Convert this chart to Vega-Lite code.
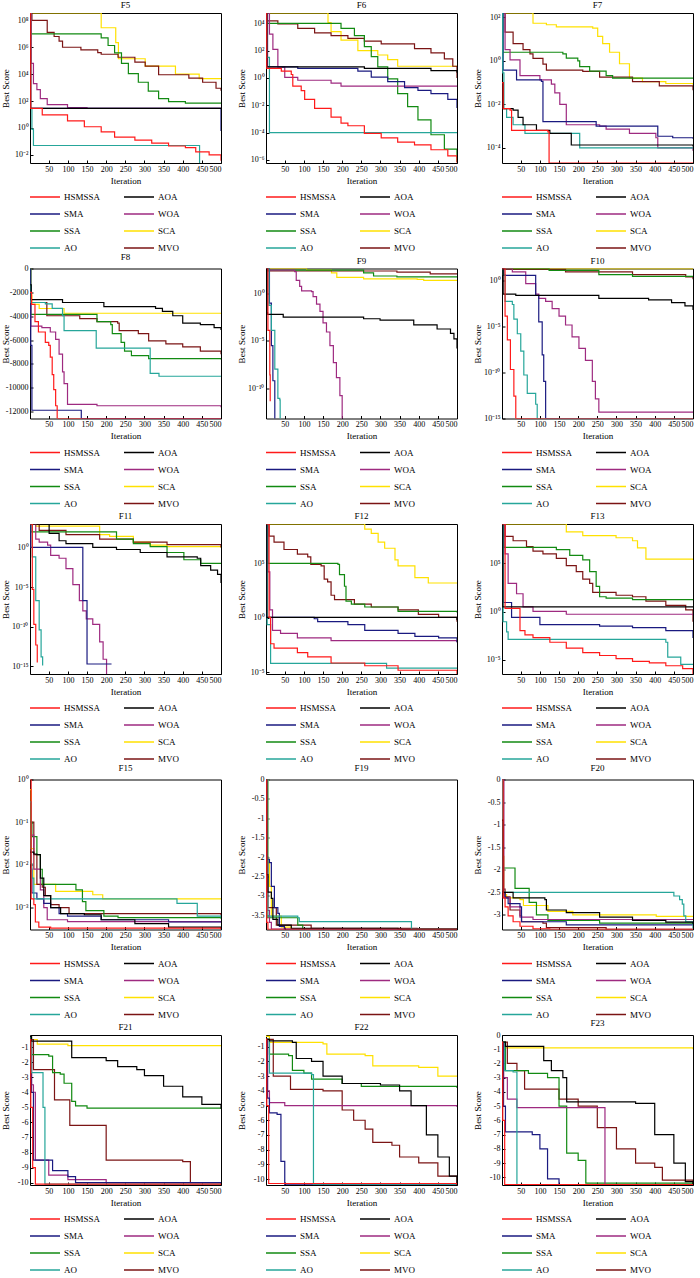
{
"$schema":"https://vega.github.io/schema/vega-lite/v6.json",
"padding":{"left":0,"top":0,"right":0,"bottom":0},
"background":"white",
"columns":3,
"spacing":{"row":105.5,"column":45},
"bounds":"flush",
"config":{
 "view":{"stroke":"#000","strokeWidth":1},
 "font":"Liberation Serif",
 "title":{"font":"Liberation Serif","fontSize":9,"fontWeight":"normal","offset":3,"color":"#000"},
 "axis":{"labelFont":"Liberation Serif","titleFont":"Liberation Serif","labelFontSize":8,"titleFontSize":9,"titleFontWeight":"normal","grid":false,"domain":false,"tickSize":-3,"labelPadding":5,"tickColor":"#000","labelColor":"#000","titleColor":"#000"},
 "axisX":{"titlePadding":3},
 "axisY":{"titleX":-20},
 "legend":{"symbolType":"stroke","symbolSize":900,"symbolStrokeWidth":1.5,"labelFont":"Liberation Serif","labelFontSize":9,"labelColor":"#000","columnPadding":22,"rowPadding":5,"clipHeight":12,"labelOffset":3,"padding":0}
},
"resolve":{"scale":{"x":"independent","y":"independent","color":"independent"},"legend":{"color":"independent"}},
"datasets":{
"F5":[
{"a":"SCA","x":1,"y":3.5e8},{"a":"SCA","x":187,"y":2.8e7},{"a":"SCA","x":225,"y":2.2e6},{"a":"SCA","x":232,"y":1.4e5},{"a":"SCA","x":302,"y":4e4},{"a":"SCA","x":381,"y":1e4},{"a":"SCA","x":443,"y":4700},{"a":"SCA","x":500,"y":4700},
{"a":"MVO","x":1,"y":3.5e8},{"a":"MVO","x":6,"y":1e8},{"a":"MVO","x":46,"y":1.26e7},{"a":"MVO","x":64,"y":6.3e6},{"a":"MVO","x":77,"y":2.8e6},{"a":"MVO","x":86,"y":1e6},{"a":"MVO","x":134,"y":6.3e5},{"a":"MVO","x":178,"y":4e5},{"a":"MVO","x":187,"y":3e5},{"a":"MVO","x":231,"y":1.8e5},{"a":"MVO","x":275,"y":7.9e4},{"a":"MVO","x":302,"y":4e4},{"a":"MVO","x":337,"y":9000},{"a":"MVO","x":416,"y":5000},{"a":"MVO","x":452,"y":2500},{"a":"MVO","x":487,"y":900},{"a":"MVO","x":500,"y":590},
{"a":"SSA","x":1,"y":3.5e8},{"a":"SSA","x":3,"y":1e7},{"a":"SSA","x":178,"y":1e7},{"a":"SSA","x":187,"y":5e6},{"a":"SSA","x":205,"y":1.35e6},{"a":"SSA","x":222,"y":3.8e5},{"a":"SSA","x":240,"y":6.3e4},{"a":"SSA","x":258,"y":1.1e4},{"a":"SSA","x":284,"y":2500},{"a":"SSA","x":310,"y":540},{"a":"SSA","x":337,"y":150},{"a":"SSA","x":363,"y":90},{"a":"SSA","x":407,"y":70},{"a":"SSA","x":500,"y":70},
{"a":"WOA","x":1,"y":3.5e8},{"a":"WOA","x":4,"y":6.3e4},{"a":"WOA","x":10,"y":2000},{"a":"WOA","x":19,"y":700},{"a":"WOA","x":28,"y":150},{"a":"WOA","x":46,"y":55},{"a":"WOA","x":99,"y":33},{"a":"WOA","x":150,"y":29},{"a":"WOA","x":500,"y":29},
{"a":"SMA","x":1,"y":3.5e8},{"a":"SMA","x":3,"y":29},{"a":"SMA","x":498,"y":29},{"a":"SMA","x":500,"y":0.6},
{"a":"AO","x":1,"y":3.5e8},{"a":"AO","x":3,"y":29},{"a":"AO","x":6,"y":0.8},{"a":"AO","x":10,"y":0.05},{"a":"AO","x":443,"y":0.05},{"a":"AO","x":444,"y":1e-5},{"a":"AO","x":500,"y":1e-5},
{"a":"AOA","x":1,"y":3.5e8},{"a":"AOA","x":2,"y":29},{"a":"AOA","x":500,"y":29},
{"a":"HSMSSA","x":1,"y":3.5e8},{"a":"HSMSSA","x":3,"y":29},{"a":"HSMSSA","x":33,"y":9.3},{"a":"HSMSSA","x":99,"y":3.4},{"a":"HSMSSA","x":143,"y":1.23},{"a":"HSMSSA","x":187,"y":0.51},{"a":"HSMSSA","x":222,"y":0.21},{"a":"HSMSSA","x":275,"y":0.126},{"a":"HSMSSA","x":319,"y":0.076},{"a":"HSMSSA","x":363,"y":0.046},{"a":"HSMSSA","x":407,"y":0.035},{"a":"HSMSSA","x":434,"y":0.0166},{"a":"HSMSSA","x":469,"y":0.01},{"a":"HSMSSA","x":500,"y":0.0036}
],
"F6":[
{"a":"SCA","x":1,"y":5.7e4},{"a":"SCA","x":145,"y":5.7e4},{"a":"SCA","x":163,"y":1.15e4},{"a":"SCA","x":171,"y":2500},{"a":"SCA","x":197,"y":590},{"a":"SCA","x":241,"y":100},{"a":"SCA","x":293,"y":48},{"a":"SCA","x":319,"y":22},{"a":"SCA","x":345,"y":7.2},{"a":"SCA","x":500,"y":6.3},
{"a":"MVO","x":1,"y":5.7e4},{"a":"MVO","x":3,"y":1.5e4},{"a":"MVO","x":32,"y":8900},{"a":"MVO","x":84,"y":4300},{"a":"MVO","x":128,"y":2000},{"a":"MVO","x":171,"y":1260},{"a":"MVO","x":215,"y":790},{"a":"MVO","x":258,"y":500},{"a":"MVO","x":302,"y":316},{"a":"MVO","x":389,"y":140},{"a":"MVO","x":432,"y":68},{"a":"MVO","x":467,"y":25},{"a":"MVO","x":489,"y":7.2},{"a":"MVO","x":500,"y":1},
{"a":"SSA","x":1,"y":5.7e4},{"a":"SSA","x":3,"y":1e4},{"a":"SSA","x":180,"y":1e4},{"a":"SSA","x":197,"y":4300},{"a":"SSA","x":232,"y":1260},{"a":"SSA","x":258,"y":200},{"a":"SSA","x":276,"y":37},{"a":"SSA","x":293,"y":6.6},{"a":"SSA","x":319,"y":0.87},{"a":"SSA","x":345,"y":0.072},{"a":"SSA","x":371,"y":0.0079},{"a":"SSA","x":398,"y":8.5e-4},{"a":"SSA","x":432,"y":7e-5},{"a":"SSA","x":467,"y":6.3e-6},{"a":"SSA","x":500,"y":7e-7},
{"a":"WOA","x":1,"y":5.7e4},{"a":"WOA","x":10,"y":1600},{"a":"WOA","x":19,"y":126},{"a":"WOA","x":32,"y":6.3},{"a":"WOA","x":50,"y":1.12},{"a":"WOA","x":84,"y":0.68},{"a":"WOA","x":171,"y":0.42},{"a":"WOA","x":197,"y":0.25},{"a":"WOA","x":500,"y":0.25},
{"a":"SMA","x":1,"y":5.7e4},{"a":"SMA","x":5,"y":6.6},{"a":"SMA","x":84,"y":5},{"a":"SMA","x":232,"y":5},{"a":"SMA","x":241,"y":3.2},{"a":"SMA","x":276,"y":1.15},{"a":"SMA","x":319,"y":0.54},{"a":"SMA","x":363,"y":0.2},{"a":"SMA","x":398,"y":0.126},{"a":"SMA","x":432,"y":0.072},{"a":"SMA","x":476,"y":0.027},{"a":"SMA","x":500,"y":0.0063},
{"a":"AO","x":1,"y":5.7e4},{"a":"AO","x":3,"y":32},{"a":"AO","x":10,"y":1e-4},{"a":"AO","x":500,"y":1e-4},
{"a":"AOA","x":1,"y":5.7e4},{"a":"AOA","x":3,"y":6.6},{"a":"AOA","x":258,"y":5},{"a":"AOA","x":432,"y":3.5},{"a":"AOA","x":500,"y":2.4},
{"a":"HSMSSA","x":1,"y":5.7e4},{"a":"HSMSSA","x":3,"y":5},{"a":"HSMSSA","x":41,"y":3.2},{"a":"HSMSSA","x":67,"y":1.8},{"a":"HSMSSA","x":71,"y":0.25},{"a":"HSMSSA","x":93,"y":0.12},{"a":"HSMSSA","x":102,"y":0.027},{"a":"HSMSSA","x":128,"y":0.006},{"a":"HSMSSA","x":171,"y":0.00135},{"a":"HSMSSA","x":197,"y":5e-4},{"a":"HSMSSA","x":215,"y":3.2e-4},{"a":"HSMSSA","x":258,"y":8.7e-5},{"a":"HSMSSA","x":302,"y":4.2e-5},{"a":"HSMSSA","x":345,"y":2e-5},{"a":"HSMSSA","x":389,"y":1.26e-5},{"a":"HSMSSA","x":432,"y":5.6e-6},{"a":"HSMSSA","x":476,"y":2e-6},{"a":"HSMSSA","x":500,"y":6.3e-7}
],
"F7":[
{"a":"SCA","x":1,"y":160},{"a":"SCA","x":82,"y":54},{"a":"SCA","x":117,"y":46},{"a":"SCA","x":143,"y":37},{"a":"SCA","x":238,"y":32},{"a":"SCA","x":251,"y":13.5},{"a":"SCA","x":264,"y":6.2},{"a":"SCA","x":282,"y":2.5},{"a":"SCA","x":308,"y":0.74},{"a":"SCA","x":334,"y":0.16},{"a":"SCA","x":368,"y":0.11},{"a":"SCA","x":429,"y":0.091},{"a":"SCA","x":500,"y":0.08},
{"a":"MVO","x":1,"y":160},{"a":"MVO","x":9,"y":21},{"a":"MVO","x":30,"y":6.2},{"a":"MVO","x":56,"y":3.3},{"a":"MVO","x":74,"y":2.1},{"a":"MVO","x":82,"y":1.3},{"a":"MVO","x":108,"y":0.71},{"a":"MVO","x":117,"y":0.38},{"a":"MVO","x":212,"y":0.33},{"a":"MVO","x":256,"y":0.18},{"a":"MVO","x":342,"y":0.11},{"a":"MVO","x":412,"y":0.071},{"a":"MVO","x":500,"y":0.045},
{"a":"SSA","x":1,"y":160},{"a":"SSA","x":3,"y":2.5},{"a":"SSA","x":134,"y":2.5},{"a":"SSA","x":160,"y":2.1},{"a":"SSA","x":169,"y":1.35},{"a":"SSA","x":199,"y":1.0},{"a":"SSA","x":204,"y":0.54},{"a":"SSA","x":230,"y":0.34},{"a":"SSA","x":273,"y":0.21},{"a":"SSA","x":290,"y":0.16},{"a":"SSA","x":500,"y":0.15},
{"a":"WOA","x":1,"y":160},{"a":"WOA","x":9,"y":3.3},{"a":"WOA","x":22,"y":1.12},{"a":"WOA","x":48,"y":0.21},{"a":"WOA","x":100,"y":0.135},{"a":"WOA","x":130,"y":0.085},{"a":"WOA","x":139,"y":0.034},{"a":"WOA","x":152,"y":0.01},{"a":"WOA","x":169,"y":0.00115},{"a":"WOA","x":256,"y":0.001},{"a":"WOA","x":273,"y":7.2e-4},{"a":"WOA","x":334,"y":4.6e-4},{"a":"WOA","x":403,"y":2.9e-4},{"a":"WOA","x":408,"y":1e-4},{"a":"WOA","x":500,"y":7.4e-5},
{"a":"SMA","x":1,"y":160},{"a":"SMA","x":4,"y":0.38},{"a":"SMA","x":39,"y":0.135},{"a":"SMA","x":104,"y":0.115},{"a":"SMA","x":108,"y":0.0016},{"a":"SMA","x":247,"y":0.001},{"a":"SMA","x":408,"y":3.4e-4},{"a":"SMA","x":447,"y":2.9e-4},{"a":"SMA","x":500,"y":2.6e-4},
{"a":"AO","x":1,"y":160},{"a":"AO","x":3,"y":0.28},{"a":"AO","x":6,"y":0.0063},{"a":"AO","x":13,"y":0.0025},{"a":"AO","x":30,"y":0.00115},{"a":"AO","x":61,"y":4.6e-4},{"a":"AO","x":199,"y":4.6e-4},{"a":"AO","x":204,"y":1e-4},{"a":"AO","x":500,"y":1e-4},
{"a":"AOA","x":1,"y":0.1},{"a":"AOA","x":4,"y":0.0063},{"a":"AOA","x":30,"y":0.0054},{"a":"AOA","x":43,"y":0.0025},{"a":"AOA","x":56,"y":0.00115},{"a":"AOA","x":91,"y":6.3e-4},{"a":"AOA","x":126,"y":4.6e-4},{"a":"AOA","x":182,"y":1.35e-4},{"a":"AOA","x":500,"y":1.15e-4},
{"a":"HSMSSA","x":1,"y":0.1},{"a":"HSMSSA","x":4,"y":0.0063},{"a":"HSMSSA","x":22,"y":0.0054},{"a":"HSMSSA","x":26,"y":6.3e-4},{"a":"HSMSSA","x":121,"y":5.4e-4},{"a":"HSMSSA","x":124,"y":2e-5},{"a":"HSMSSA","x":500,"y":2e-5}
],
"F8":[
{"a":"SCA","x":1,"y":0},{"a":"SCA","x":3,"y":-2200},{"a":"SCA","x":6,"y":-3000},{"a":"SCA","x":25,"y":-3350},{"a":"SCA","x":90,"y":-3750},{"a":"SCA","x":500,"y":-3750},
{"a":"MVO","x":1,"y":-1360},{"a":"MVO","x":4,"y":-2850},{"a":"MVO","x":45,"y":-3960},{"a":"MVO","x":131,"y":-4200},{"a":"MVO","x":176,"y":-4450},{"a":"MVO","x":230,"y":-4580},{"a":"MVO","x":234,"y":-5200},{"a":"MVO","x":284,"y":-5450},{"a":"MVO","x":311,"y":-6060},{"a":"MVO","x":356,"y":-6310},{"a":"MVO","x":400,"y":-6560},{"a":"MVO","x":446,"y":-6930},{"a":"MVO","x":500,"y":-7180},
{"a":"SSA","x":1,"y":0},{"a":"SSA","x":3,"y":-3840},{"a":"SSA","x":176,"y":-4450},{"a":"SSA","x":212,"y":-4700},{"a":"SSA","x":216,"y":-5450},{"a":"SSA","x":239,"y":-6190},{"a":"SSA","x":248,"y":-6930},{"a":"SSA","x":266,"y":-7300},{"a":"SSA","x":311,"y":-7550},{"a":"SSA","x":500,"y":-7620},
{"a":"WOA","x":1,"y":-1360},{"a":"WOA","x":3,"y":-4830},{"a":"WOA","x":32,"y":-4950},{"a":"WOA","x":54,"y":-5320},{"a":"WOA","x":68,"y":-5940},{"a":"WOA","x":77,"y":-7180},{"a":"WOA","x":86,"y":-8660},{"a":"WOA","x":90,"y":-9650},{"a":"WOA","x":99,"y":-11390},{"a":"WOA","x":176,"y":-11500},{"a":"WOA","x":500,"y":-11630},
{"a":"SMA","x":1,"y":0},{"a":"SMA","x":3,"y":-6440},{"a":"SMA","x":6,"y":-11880},{"a":"SMA","x":131,"y":-11880},{"a":"SMA","x":135,"y":-12570},{"a":"SMA","x":500,"y":-12570},
{"a":"AO","x":1,"y":-1360},{"a":"AO","x":3,"y":-2850},{"a":"AO","x":41,"y":-2970},{"a":"AO","x":59,"y":-3340},{"a":"AO","x":86,"y":-3960},{"a":"AO","x":90,"y":-5200},{"a":"AO","x":174,"y":-6680},{"a":"AO","x":315,"y":-8790},{"a":"AO","x":338,"y":-9030},{"a":"AO","x":500,"y":-9030},
{"a":"AOA","x":1,"y":-1360},{"a":"AOA","x":4,"y":-2600},{"a":"AOA","x":86,"y":-2850},{"a":"AOA","x":194,"y":-3200},{"a":"AOA","x":329,"y":-3340},{"a":"AOA","x":347,"y":-3590},{"a":"AOA","x":374,"y":-3960},{"a":"AOA","x":400,"y":-4580},{"a":"AOA","x":446,"y":-4700},{"a":"AOA","x":482,"y":-4950},{"a":"AOA","x":500,"y":-5150},
{"a":"HSMSSA","x":1,"y":-2000},{"a":"HSMSSA","x":5,"y":-3000},{"a":"HSMSSA","x":14,"y":-4450},{"a":"HSMSSA","x":23,"y":-5320},{"a":"HSMSSA","x":41,"y":-6190},{"a":"HSMSSA","x":50,"y":-6440},{"a":"HSMSSA","x":54,"y":-7430},{"a":"HSMSSA","x":59,"y":-8900},{"a":"HSMSSA","x":63,"y":-10150},{"a":"HSMSSA","x":68,"y":-11500},{"a":"HSMSSA","x":72,"y":-12570},{"a":"HSMSSA","x":500,"y":-12570}
],
"F9":[
{"a":"SCA","x":1,"y":460},{"a":"SCA","x":98,"y":460},{"a":"SCA","x":107,"y":316},{"a":"SCA","x":172,"y":160},{"a":"SCA","x":186,"y":52},{"a":"SCA","x":256,"y":36},{"a":"SCA","x":396,"y":32},{"a":"SCA","x":413,"y":25},{"a":"SCA","x":500,"y":25},
{"a":"MVO","x":1,"y":460},{"a":"MVO","x":6,"y":250},{"a":"MVO","x":343,"y":190},{"a":"MVO","x":430,"y":126},{"a":"MVO","x":500,"y":107},
{"a":"SSA","x":1,"y":460},{"a":"SSA","x":6,"y":316},{"a":"SSA","x":256,"y":160},{"a":"SSA","x":282,"y":74},{"a":"SSA","x":343,"y":60},{"a":"SSA","x":500,"y":52},
{"a":"WOA","x":1,"y":460},{"a":"WOA","x":6,"y":316},{"a":"WOA","x":76,"y":220},{"a":"WOA","x":80,"y":25},{"a":"WOA","x":89,"y":6},{"a":"WOA","x":94,"y":2},{"a":"WOA","x":120,"y":1.66},{"a":"WOA","x":124,"y":0.49},{"a":"WOA","x":133,"y":0.079},{"a":"WOA","x":142,"y":0.0135},{"a":"WOA","x":150,"y":8e-4},{"a":"WOA","x":159,"y":8.7e-5},{"a":"WOA","x":168,"y":3.2e-6},{"a":"WOA","x":177,"y":5e-8},{"a":"WOA","x":185,"y":1.26e-9},{"a":"WOA","x":194,"y":1.6e-11},{"a":"WOA","x":200,"y":1e-15},
{"a":"SMA","x":1,"y":460},{"a":"SMA","x":10,"y":0.1},{"a":"SMA","x":15,"y":3.2e-6},{"a":"SMA","x":19,"y":6e-10},{"a":"SMA","x":24,"y":1e-15},
{"a":"AO","x":1,"y":460},{"a":"AO","x":9,"y":0.056},{"a":"AO","x":15,"y":1.26e-4},{"a":"AO","x":24,"y":1e-8},{"a":"AO","x":32,"y":8e-12},{"a":"AO","x":37,"y":5.6e-12},{"a":"AO","x":38,"y":1e-15},
{"a":"AOA","x":1,"y":460},{"a":"AOA","x":4,"y":0.01},{"a":"AOA","x":5,"y":0.0063},{"a":"AOA","x":46,"y":0.0032},{"a":"AOA","x":212,"y":0.0032},{"a":"AOA","x":256,"y":0.0022},{"a":"AOA","x":299,"y":0.0016},{"a":"AOA","x":387,"y":5e-4},{"a":"AOA","x":448,"y":1.8e-4},{"a":"AOA","x":483,"y":6.3e-5},{"a":"AOA","x":492,"y":1.6e-5},{"a":"AOA","x":500,"y":1.6e-6},
{"a":"HSMSSA","x":1,"y":460},{"a":"HSMSSA","x":6,"y":1.26e-4},{"a":"HSMSSA","x":11,"y":2.5e-9},{"a":"HSMSSA","x":12,"y":4e-12}
],
"F10":[
{"a":"SCA","x":1,"y":20.8},{"a":"SCA","x":500,"y":20.8},
{"a":"MVO","x":1,"y":20.8},{"a":"MVO","x":6,"y":17},{"a":"MVO","x":167,"y":9.3},{"a":"MVO","x":342,"y":4.5},{"a":"MVO","x":481,"y":2.6},{"a":"MVO","x":500,"y":1.45},
{"a":"SSA","x":1,"y":20.8},{"a":"SSA","x":124,"y":13.5},{"a":"SSA","x":254,"y":4.5},{"a":"SSA","x":342,"y":3},{"a":"SSA","x":500,"y":2.6},
{"a":"WOA","x":1,"y":20.8},{"a":"WOA","x":28,"y":9.3},{"a":"WOA","x":63,"y":0.48},{"a":"WOA","x":89,"y":0.035},{"a":"WOA","x":97,"y":0.0115},{"a":"WOA","x":115,"y":0.0055},{"a":"WOA","x":132,"y":8.7e-4},{"a":"WOA","x":150,"y":1.35e-4},{"a":"WOA","x":167,"y":1.45e-5},{"a":"WOA","x":184,"y":7.4e-7},{"a":"WOA","x":202,"y":4e-8},{"a":"WOA","x":219,"y":2e-9},{"a":"WOA","x":237,"y":1e-11},{"a":"WOA","x":245,"y":1.26e-13},{"a":"WOA","x":254,"y":4.4e-15},{"a":"WOA","x":500,"y":4.4e-15},
{"a":"SMA","x":1,"y":20.8},{"a":"SMA","x":6,"y":3.8},{"a":"SMA","x":80,"y":3.8},{"a":"SMA","x":89,"y":0.025},{"a":"SMA","x":97,"y":3.2e-5},{"a":"SMA","x":106,"y":8e-9},{"a":"SMA","x":110,"y":1e-11},{"a":"SMA","x":115,"y":8.88e-16},{"a":"SMA","x":500,"y":8.88e-16},
{"a":"AO","x":1,"y":20.8},{"a":"AO","x":4,"y":4.5},{"a":"AO","x":9,"y":0.0055},{"a":"AO","x":28,"y":0.0025},{"a":"AO","x":32,"y":6.3e-5},{"a":"AO","x":41,"y":1.6e-6},{"a":"AO","x":50,"y":2e-8},{"a":"AO","x":58,"y":5e-11},{"a":"AO","x":67,"y":5e-13},{"a":"AO","x":89,"y":3.2e-14},{"a":"AO","x":93,"y":8.88e-16},{"a":"AO","x":500,"y":8.88e-16},
{"a":"AOA","x":1,"y":20.8},{"a":"AOA","x":4,"y":0.035},{"a":"AOA","x":37,"y":0.025},{"a":"AOA","x":254,"y":0.0115},{"a":"AOA","x":384,"y":0.008},{"a":"AOA","x":444,"y":0.004},{"a":"AOA","x":479,"y":0.0018},{"a":"AOA","x":500,"y":6.3e-4},
{"a":"HSMSSA","x":1,"y":20.8},{"a":"HSMSSA","x":9,"y":1.35e-4},{"a":"HSMSSA","x":15,"y":3.5e-7},{"a":"HSMSSA","x":23,"y":2e-10},{"a":"HSMSSA","x":32,"y":2.5e-13},{"a":"HSMSSA","x":37,"y":8.88e-16},{"a":"HSMSSA","x":500,"y":8.88e-16}
],
"F11":[
{"a":"SCA","x":1,"y":900},{"a":"SCA","x":16,"y":500},{"a":"SCA","x":179,"y":500},{"a":"SCA","x":183,"y":40},{"a":"SCA","x":209,"y":25},{"a":"SCA","x":271,"y":4.7},{"a":"SCA","x":315,"y":2},{"a":"SCA","x":359,"y":1.3},{"a":"SCA","x":500,"y":1},
{"a":"MVO","x":1,"y":900},{"a":"MVO","x":25,"y":140},{"a":"MVO","x":95,"y":40},{"a":"MVO","x":183,"y":11},{"a":"MVO","x":271,"y":4.7},{"a":"MVO","x":359,"y":2.3},{"a":"MVO","x":500,"y":1},
{"a":"SSA","x":1,"y":900},{"a":"SSA","x":3,"y":91},{"a":"SSA","x":192,"y":91},{"a":"SSA","x":227,"y":11},{"a":"SSA","x":271,"y":3},{"a":"SSA","x":315,"y":1.3},{"a":"SSA","x":359,"y":0.23},{"a":"SSA","x":403,"y":0.028},{"a":"SSA","x":447,"y":0.01},{"a":"SSA","x":500,"y":0.008},
{"a":"WOA","x":1,"y":900},{"a":"WOA","x":16,"y":11},{"a":"WOA","x":25,"y":4.7},{"a":"WOA","x":47,"y":2},{"a":"WOA","x":55,"y":0.1},{"a":"WOA","x":77,"y":0.043},{"a":"WOA","x":95,"y":0.0021},{"a":"WOA","x":113,"y":2e-5},{"a":"WOA","x":130,"y":2e-7},{"a":"WOA","x":139,"y":1e-8},{"a":"WOA","x":148,"y":1e-9},{"a":"WOA","x":165,"y":2e-10},{"a":"WOA","x":183,"y":1.26e-12},{"a":"WOA","x":192,"y":8e-15},{"a":"WOA","x":201,"y":1e-17},
{"a":"SMA","x":1,"y":900},{"a":"SMA","x":3,"y":1},{"a":"SMA","x":133,"y":1},{"a":"SMA","x":139,"y":2e-7},{"a":"SMA","x":150,"y":2e-15},{"a":"SMA","x":214,"y":2e-15},
{"a":"AO","x":1,"y":900},{"a":"AO","x":7,"y":0.063},{"a":"AO","x":16,"y":2e-7},{"a":"AO","x":25,"y":4e-11},{"a":"AO","x":30,"y":1.6e-14},{"a":"AO","x":34,"y":1.26e-15},
{"a":"AOA","x":1,"y":900},{"a":"AOA","x":51,"y":60},{"a":"AOA","x":77,"y":7},{"a":"AOA","x":95,"y":3},{"a":"AOA","x":165,"y":1},{"a":"AOA","x":227,"y":0.55},{"a":"AOA","x":289,"y":0.23},{"a":"AOA","x":359,"y":0.066},{"a":"AOA","x":438,"y":0.043},{"a":"AOA","x":447,"y":0.005},{"a":"AOA","x":473,"y":0.0014},{"a":"AOA","x":491,"y":4e-4},{"a":"AOA","x":500,"y":3.2e-5},
{"a":"HSMSSA","x":1,"y":900},{"a":"HSMSSA","x":7,"y":5e-6},{"a":"HSMSSA","x":11,"y":2e-10},{"a":"HSMSSA","x":16,"y":5e-13},{"a":"HSMSSA","x":20,"y":3.2e-15}
],
"F12":[
{"a":"SCA","x":1,"y":4.2e8},{"a":"SCA","x":237,"y":4.2e8},{"a":"SCA","x":259,"y":1.45e8},{"a":"SCA","x":276,"y":5.8e7},{"a":"SCA","x":294,"y":9e6},{"a":"SCA","x":311,"y":2.5e6},{"a":"SCA","x":338,"y":2.1e5},{"a":"SCA","x":346,"y":6e4},{"a":"SCA","x":390,"y":5000},{"a":"SCA","x":425,"y":1600},{"a":"SCA","x":500,"y":1600},
{"a":"MVO","x":1,"y":4.2e8},{"a":"MVO","x":9,"y":3.2e7},{"a":"MVO","x":22,"y":9e6},{"a":"MVO","x":48,"y":1.9e6},{"a":"MVO","x":83,"y":7.2e5},{"a":"MVO","x":110,"y":4e5},{"a":"MVO","x":118,"y":8.3e4},{"a":"MVO","x":145,"y":6e4},{"a":"MVO","x":153,"y":3700},{"a":"MVO","x":162,"y":2000},{"a":"MVO","x":171,"y":120},{"a":"MVO","x":180,"y":48},{"a":"MVO","x":232,"y":18.6},{"a":"MVO","x":276,"y":10},{"a":"MVO","x":346,"y":5.4},{"a":"MVO","x":399,"y":2.1},{"a":"MVO","x":452,"y":1.12},{"a":"MVO","x":500,"y":0.45},
{"a":"SSA","x":1,"y":4.2e8},{"a":"SSA","x":6,"y":1e5},{"a":"SSA","x":189,"y":8.3e4},{"a":"SSA","x":193,"y":9300},{"a":"SSA","x":206,"y":800},{"a":"SSA","x":210,"y":35},{"a":"SSA","x":224,"y":18.6},{"a":"SSA","x":259,"y":10},{"a":"SSA","x":346,"y":4},{"a":"SSA","x":500,"y":3.2},
{"a":"WOA","x":1,"y":4.2e8},{"a":"WOA","x":6,"y":1.7e4},{"a":"WOA","x":11,"y":5.4},{"a":"WOA","x":18,"y":0.07},{"a":"WOA","x":39,"y":0.037},{"a":"WOA","x":83,"y":0.0145},{"a":"WOA","x":171,"y":0.008},{"a":"WOA","x":500,"y":0.0058},
{"a":"SMA","x":1,"y":4.2e8},{"a":"SMA","x":3,"y":1.12},{"a":"SMA","x":127,"y":0.83},{"a":"SMA","x":136,"y":0.45},{"a":"SMA","x":215,"y":0.24},{"a":"SMA","x":259,"y":0.07},{"a":"SMA","x":346,"y":0.037},{"a":"SMA","x":390,"y":0.02},{"a":"SMA","x":452,"y":0.0145},{"a":"SMA","x":500,"y":0.0058},
{"a":"AO","x":1,"y":4.2e8},{"a":"AO","x":4,"y":0.24},{"a":"AO","x":13,"y":6.5e-5},{"a":"AO","x":311,"y":6.5e-5},{"a":"AO","x":316,"y":2.4e-5},{"a":"AO","x":500,"y":2.4e-5},
{"a":"AOA","x":1,"y":4.2e8},{"a":"AOA","x":3,"y":1.12},{"a":"AOA","x":500,"y":0.63},
{"a":"HSMSSA","x":1,"y":4.2e8},{"a":"HSMSSA","x":9,"y":1.12},{"a":"HSMSSA","x":13,"y":0.0042},{"a":"HSMSSA","x":22,"y":0.00166},{"a":"HSMSSA","x":83,"y":6.5e-4},{"a":"HSMSSA","x":110,"y":2.6e-4},{"a":"HSMSSA","x":171,"y":7.2e-5},{"a":"HSMSSA","x":259,"y":4e-5},{"a":"HSMSSA","x":346,"y":1.55e-5},{"a":"HSMSSA","x":500,"y":7e-6}
],
"F13":[
{"a":"SCA","x":1,"y":1.2e9},{"a":"SCA","x":160,"y":1.2e9},{"a":"SCA","x":169,"y":1.8e8},{"a":"SCA","x":212,"y":7.4e7},{"a":"SCA","x":299,"y":4.5e7},{"a":"SCA","x":342,"y":2.2e7},{"a":"SCA","x":355,"y":4e6},{"a":"SCA","x":377,"y":2.7e5},{"a":"SCA","x":500,"y":2.3e5},
{"a":"MVO","x":1,"y":1.2e9},{"a":"MVO","x":9,"y":6.3e7},{"a":"MVO","x":30,"y":2.2e7},{"a":"MVO","x":65,"y":5.5e6},{"a":"MVO","x":82,"y":1.9e6},{"a":"MVO","x":108,"y":9.5e5},{"a":"MVO","x":143,"y":3.3e5},{"a":"MVO","x":169,"y":5.8e4},{"a":"MVO","x":195,"y":1.4e4},{"a":"MVO","x":212,"y":2400},{"a":"MVO","x":230,"y":850},{"a":"MVO","x":238,"y":100},{"a":"MVO","x":299,"y":50},{"a":"MVO","x":342,"y":35},{"a":"MVO","x":377,"y":12.6},{"a":"MVO","x":429,"y":4.4},{"a":"MVO","x":481,"y":1.5},{"a":"MVO","x":500,"y":0.09},
{"a":"SSA","x":1,"y":1.2e9},{"a":"SSA","x":6,"y":4.5e6},{"a":"SSA","x":143,"y":2.7e6},{"a":"SSA","x":178,"y":6.6e5},{"a":"SSA","x":212,"y":2.3e5},{"a":"SSA","x":230,"y":1.4e4},{"a":"SSA","x":247,"y":420},{"a":"SSA","x":256,"y":35},{"a":"SSA","x":273,"y":25},{"a":"SSA","x":342,"y":18},{"a":"SSA","x":500,"y":16},
{"a":"WOA","x":1,"y":1.2e9},{"a":"WOA","x":9,"y":9.5e5},{"a":"WOA","x":17,"y":850},{"a":"WOA","x":39,"y":72},{"a":"WOA","x":56,"y":3.1},{"a":"WOA","x":82,"y":1.07},{"a":"WOA","x":169,"y":0.54},{"a":"WOA","x":500,"y":0.43},
{"a":"SMA","x":1,"y":1.2e9},{"a":"SMA","x":4,"y":8.9},{"a":"SMA","x":22,"y":8.9},{"a":"SMA","x":26,"y":0.26},{"a":"SMA","x":95,"y":0.26},{"a":"SMA","x":100,"y":0.046},{"a":"SMA","x":212,"y":0.046},{"a":"SMA","x":256,"y":0.032},{"a":"SMA","x":342,"y":0.022},{"a":"SMA","x":429,"y":0.011},{"a":"SMA","x":500,"y":0.0019},
{"a":"AO","x":1,"y":1.2e9},{"a":"AO","x":4,"y":0.09},{"a":"AO","x":13,"y":0.0079},{"a":"AO","x":17,"y":0.00135},{"a":"AO","x":342,"y":0.00135},{"a":"AO","x":429,"y":6.8e-4},{"a":"AO","x":434,"y":2e-5},{"a":"AO","x":464,"y":2e-5},{"a":"AO","x":468,"y":3.5e-6},{"a":"AO","x":500,"y":3.5e-6},
{"a":"AOA","x":1,"y":1.2e9},{"a":"AOA","x":3,"y":3.1},{"a":"AOA","x":500,"y":3.1},
{"a":"HSMSSA","x":1,"y":1.2e9},{"a":"HSMSSA","x":9,"y":2.2},{"a":"HSMSSA","x":43,"y":2.2},{"a":"HSMSSA","x":48,"y":0.011},{"a":"HSMSSA","x":61,"y":0.004},{"a":"HSMSSA","x":82,"y":0.002},{"a":"HSMSSA","x":126,"y":6.8e-4},{"a":"HSMSSA","x":169,"y":1.66e-4},{"a":"HSMSSA","x":212,"y":5.8e-5},{"a":"HSMSSA","x":256,"y":2.9e-5},{"a":"HSMSSA","x":299,"y":1.4e-5},{"a":"HSMSSA","x":342,"y":7e-6},{"a":"HSMSSA","x":386,"y":5e-6},{"a":"HSMSSA","x":429,"y":2.5e-6},{"a":"HSMSSA","x":473,"y":1.26e-6},{"a":"HSMSSA","x":500,"y":3.5e-7}
],
"F15":[
{"a":"SCA","x":1,"y":0.58},{"a":"SCA","x":4,"y":0.024},{"a":"SCA","x":11,"y":0.0035},{"a":"SCA","x":68,"y":0.0024},{"a":"SCA","x":165,"y":0.002},{"a":"SCA","x":191,"y":0.0016},{"a":"SCA","x":500,"y":0.0016},
{"a":"MVO","x":1,"y":0.1},{"a":"MVO","x":11,"y":0.0174},{"a":"MVO","x":19,"y":0.0035},{"a":"MVO","x":33,"y":0.003},{"a":"MVO","x":41,"y":0.0019},{"a":"MVO","x":55,"y":0.00117},{"a":"MVO","x":77,"y":0.001},{"a":"MVO","x":103,"y":7.2e-4},{"a":"MVO","x":500,"y":6.5e-4},
{"a":"SSA","x":1,"y":0.1},{"a":"SSA","x":6,"y":0.046},{"a":"SSA","x":19,"y":0.0174},{"a":"SSA","x":28,"y":0.0079},{"a":"SSA","x":33,"y":0.0035},{"a":"SSA","x":121,"y":0.0026},{"a":"SSA","x":138,"y":0.00138},{"a":"SSA","x":147,"y":8.5e-4},{"a":"SSA","x":194,"y":6.3e-4},{"a":"SSA","x":231,"y":5.8e-4},{"a":"SSA","x":500,"y":5.5e-4},
{"a":"WOA","x":1,"y":0.05},{"a":"WOA","x":11,"y":0.008},{"a":"WOA","x":28,"y":0.0026},{"a":"WOA","x":37,"y":0.001},{"a":"WOA","x":46,"y":5.2e-4},{"a":"WOA","x":99,"y":4.7e-4},{"a":"WOA","x":500,"y":4.7e-4},
{"a":"SMA","x":1,"y":0.008},{"a":"SMA","x":6,"y":0.0022},{"a":"SMA","x":19,"y":0.0016},{"a":"SMA","x":37,"y":0.00126},{"a":"SMA","x":55,"y":0.001},{"a":"SMA","x":77,"y":7.2e-4},{"a":"SMA","x":99,"y":6.3e-4},{"a":"SMA","x":187,"y":5.2e-4},{"a":"SMA","x":363,"y":4.6e-4},{"a":"SMA","x":500,"y":4.6e-4},
{"a":"AO","x":1,"y":0.3},{"a":"AO","x":4,"y":0.0107},{"a":"AO","x":6,"y":0.0049},{"a":"AO","x":11,"y":0.0016},{"a":"AO","x":385,"y":0.00126},{"a":"AO","x":438,"y":6.3e-4},{"a":"AO","x":500,"y":5.8e-4},
{"a":"AOA","x":1,"y":0.02},{"a":"AOA","x":11,"y":0.018},{"a":"AOA","x":19,"y":0.0174},{"a":"AOA","x":28,"y":0.0049},{"a":"AOA","x":37,"y":0.0019},{"a":"AOA","x":55,"y":0.001},{"a":"AOA","x":81,"y":7.2e-4},{"a":"AOA","x":143,"y":6.8e-4},{"a":"AOA","x":187,"y":5.2e-4},{"a":"AOA","x":275,"y":4.2e-4},{"a":"AOA","x":363,"y":3.5e-4},{"a":"AOA","x":500,"y":3.1e-4},
{"a":"HSMSSA","x":1,"y":1},{"a":"HSMSSA","x":4,"y":0.0016},{"a":"HSMSSA","x":11,"y":0.00117},{"a":"HSMSSA","x":15,"y":4.6e-4},{"a":"HSMSSA","x":24,"y":3.5e-4},{"a":"HSMSSA","x":55,"y":3.3e-4},{"a":"HSMSSA","x":500,"y":3.1e-4}
],
"F19":[
{"a":"SCA","x":1,"y":0},{"a":"SCA","x":6,"y":-2.14},{"a":"SCA","x":10,"y":-2.75},{"a":"SCA","x":15,"y":-3.52},{"a":"SCA","x":41,"y":-3.8},{"a":"SCA","x":67,"y":-3.85},{"a":"SCA","x":500,"y":-3.86},
{"a":"MVO","x":1,"y":-0.67},{"a":"MVO","x":3,"y":-2.0},{"a":"MVO","x":6,"y":-3.3},{"a":"MVO","x":28,"y":-3.75},{"a":"MVO","x":119,"y":-3.83},{"a":"MVO","x":396,"y":-3.85},{"a":"MVO","x":500,"y":-3.86},
{"a":"SSA","x":1,"y":0},{"a":"SSA","x":3,"y":-3.56},{"a":"SSA","x":84,"y":-3.75},{"a":"SSA","x":97,"y":-3.85},{"a":"SSA","x":258,"y":-3.86},{"a":"SSA","x":500,"y":-3.86},
{"a":"WOA","x":1,"y":0},{"a":"WOA","x":3,"y":-3.37},{"a":"WOA","x":10,"y":-3.68},{"a":"WOA","x":15,"y":-3.85},{"a":"WOA","x":275,"y":-3.86},{"a":"WOA","x":500,"y":-3.86},
{"a":"SMA","x":1,"y":0},{"a":"SMA","x":4,"y":-2.06},{"a":"SMA","x":10,"y":-2.14},{"a":"SMA","x":15,"y":-2.75},{"a":"SMA","x":23,"y":-3.3},{"a":"SMA","x":32,"y":-3.45},{"a":"SMA","x":36,"y":-3.78},{"a":"SMA","x":49,"y":-3.86},{"a":"SMA","x":500,"y":-3.86},
{"a":"AO","x":1,"y":0},{"a":"AO","x":6,"y":-3.52},{"a":"AO","x":84,"y":-3.56},{"a":"AO","x":88,"y":-3.66},{"a":"AO","x":378,"y":-3.66},{"a":"AO","x":381,"y":-3.86},{"a":"AO","x":500,"y":-3.86},
{"a":"AOA","x":1,"y":0},{"a":"AOA","x":3,"y":-2.45},{"a":"AOA","x":6,"y":-2.9},{"a":"AOA","x":15,"y":-3.06},{"a":"AOA","x":19,"y":-3.6},{"a":"AOA","x":32,"y":-3.75},{"a":"AOA","x":67,"y":-3.83},{"a":"AOA","x":346,"y":-3.85},{"a":"AOA","x":355,"y":-3.86},{"a":"AOA","x":500,"y":-3.86},
{"a":"HSMSSA","x":1,"y":0},{"a":"HSMSSA","x":3,"y":-3.68},{"a":"HSMSSA","x":6,"y":-3.86},{"a":"HSMSSA","x":500,"y":-3.86}
],
"F20":[
{"a":"SCA","x":1,"y":0},{"a":"SCA","x":3,"y":-1.7},{"a":"SCA","x":6,"y":-2.55},{"a":"SCA","x":13,"y":-2.62},{"a":"SCA","x":48,"y":-2.66},{"a":"SCA","x":57,"y":-2.79},{"a":"SCA","x":121,"y":-2.92},{"a":"SCA","x":186,"y":-3.0},{"a":"SCA","x":404,"y":-3.03},{"a":"SCA","x":500,"y":-3.03},
{"a":"MVO","x":1,"y":0},{"a":"MVO","x":4,"y":-2.43},{"a":"MVO","x":9,"y":-2.6},{"a":"MVO","x":22,"y":-2.89},{"a":"MVO","x":48,"y":-3.02},{"a":"MVO","x":52,"y":-3.15},{"a":"MVO","x":108,"y":-3.18},{"a":"MVO","x":117,"y":-3.28},{"a":"MVO","x":273,"y":-3.32},{"a":"MVO","x":500,"y":-3.32},
{"a":"SSA","x":1,"y":0},{"a":"SSA","x":4,"y":-1.96},{"a":"SSA","x":35,"y":-2.41},{"a":"SSA","x":72,"y":-2.72},{"a":"SSA","x":91,"y":-3.0},{"a":"SSA","x":121,"y":-3.12},{"a":"SSA","x":256,"y":-3.18},{"a":"SSA","x":500,"y":-3.22},
{"a":"WOA","x":1,"y":0},{"a":"WOA","x":6,"y":-2.62},{"a":"WOA","x":22,"y":-2.82},{"a":"WOA","x":48,"y":-3.05},{"a":"WOA","x":82,"y":-3.1},{"a":"WOA","x":500,"y":-3.1},
{"a":"SMA","x":1,"y":0},{"a":"SMA","x":4,"y":-2.5},{"a":"SMA","x":9,"y":-2.62},{"a":"SMA","x":17,"y":-2.75},{"a":"SMA","x":48,"y":-2.82},{"a":"SMA","x":52,"y":-3.15},{"a":"SMA","x":169,"y":-3.22},{"a":"SMA","x":500,"y":-3.22},
{"a":"AO","x":1,"y":0},{"a":"AO","x":3,"y":-2.45},{"a":"AO","x":5,"y":-2.5},{"a":"AO","x":434,"y":-2.5},{"a":"AO","x":450,"y":-2.58},{"a":"AO","x":465,"y":-2.66},{"a":"AO","x":472,"y":-2.76},{"a":"AO","x":476,"y":-3.02},{"a":"AO","x":481,"y":-3.15},{"a":"AO","x":500,"y":-3.3},
{"a":"AOA","x":1,"y":-0.9},{"a":"AOA","x":4,"y":-2.5},{"a":"AOA","x":30,"y":-2.62},{"a":"AOA","x":113,"y":-2.66},{"a":"AOA","x":117,"y":-2.89},{"a":"AOA","x":169,"y":-2.95},{"a":"AOA","x":256,"y":-3.05},{"a":"AOA","x":342,"y":-3.12},{"a":"AOA","x":429,"y":-3.16},{"a":"AOA","x":500,"y":-3.2},
{"a":"HSMSSA","x":1,"y":0},{"a":"HSMSSA","x":4,"y":-2.62},{"a":"HSMSSA","x":9,"y":-2.82},{"a":"HSMSSA","x":17,"y":-3.02},{"a":"HSMSSA","x":30,"y":-3.15},{"a":"HSMSSA","x":48,"y":-3.25},{"a":"HSMSSA","x":82,"y":-3.31},{"a":"HSMSSA","x":126,"y":-3.32},{"a":"HSMSSA","x":500,"y":-3.32}
],
"F21":[
{"a":"SCA","x":1,"y":-0.3},{"a":"SCA","x":5,"y":-0.5},{"a":"SCA","x":20,"y":-0.8},{"a":"SCA","x":100,"y":-0.9},{"a":"SCA","x":500,"y":-0.9},
{"a":"MVO","x":1,"y":-0.5},{"a":"MVO","x":10,"y":-2.5},{"a":"MVO","x":65,"y":-4.5},{"a":"MVO","x":105,"y":-6.2},{"a":"MVO","x":200,"y":-8.5},{"a":"MVO","x":400,"y":-8.6},{"a":"MVO","x":420,"y":-10.0},{"a":"MVO","x":500,"y":-10.1},
{"a":"SSA","x":1,"y":-0.5},{"a":"SSA","x":5,"y":-1.5},{"a":"SSA","x":50,"y":-1.6},{"a":"SSA","x":60,"y":-2.7},{"a":"SSA","x":80,"y":-2.8},{"a":"SSA","x":90,"y":-3.4},{"a":"SSA","x":110,"y":-4.6},{"a":"SSA","x":120,"y":-4.9},{"a":"SSA","x":150,"y":-5.05},{"a":"SSA","x":500,"y":-5.1},
{"a":"WOA","x":1,"y":-0.5},{"a":"WOA","x":5,"y":-3.5},{"a":"WOA","x":10,"y":-4},{"a":"WOA","x":15,"y":-8.5},{"a":"WOA","x":50,"y":-9.5},{"a":"WOA","x":100,"y":-9.8},{"a":"WOA","x":200,"y":-10},{"a":"WOA","x":500,"y":-10.1},
{"a":"SMA","x":1,"y":-0.5},{"a":"SMA","x":5,"y":-4},{"a":"SMA","x":10,"y":-8.5},{"a":"SMA","x":60,"y":-9.2},{"a":"SMA","x":100,"y":-9.6},{"a":"SMA","x":120,"y":-10.0},{"a":"SMA","x":500,"y":-10.15},
{"a":"AO","x":1,"y":-0.4},{"a":"AO","x":5,"y":-2.7},{"a":"AO","x":35,"y":-5},{"a":"AO","x":40,"y":-10.1},{"a":"AO","x":500,"y":-10.15},
{"a":"AOA","x":1,"y":-0.3},{"a":"AOA","x":5,"y":-0.6},{"a":"AOA","x":110,"y":-1.7},{"a":"AOA","x":200,"y":-1.9},{"a":"AOA","x":230,"y":-2.3},{"a":"AOA","x":280,"y":-2.5},{"a":"AOA","x":300,"y":-2.9},{"a":"AOA","x":350,"y":-3.6},{"a":"AOA","x":400,"y":-4.3},{"a":"AOA","x":450,"y":-4.8},{"a":"AOA","x":500,"y":-5.1},
{"a":"HSMSSA","x":1,"y":-0.5},{"a":"HSMSSA","x":3,"y":-5},{"a":"HSMSSA","x":8,"y":-9},{"a":"HSMSSA","x":15,"y":-10.1},{"a":"HSMSSA","x":500,"y":-10.15}
],
"F22":[
{"a":"SCA","x":1,"y":-0.3},{"a":"SCA","x":10,"y":-0.7},{"a":"SCA","x":150,"y":-0.8},{"a":"SCA","x":160,"y":-1.5},{"a":"SCA","x":260,"y":-1.6},{"a":"SCA","x":280,"y":-2.3},{"a":"SCA","x":400,"y":-2.4},{"a":"SCA","x":450,"y":-3},{"a":"SCA","x":500,"y":-3},
{"a":"MVO","x":1,"y":-0.5},{"a":"MVO","x":20,"y":-3},{"a":"MVO","x":65,"y":-3.9},{"a":"MVO","x":150,"y":-4},{"a":"MVO","x":200,"y":-5.3},{"a":"MVO","x":230,"y":-6},{"a":"MVO","x":260,"y":-6.6},{"a":"MVO","x":280,"y":-7.5},{"a":"MVO","x":330,"y":-7.7},{"a":"MVO","x":350,"y":-8.5},{"a":"MVO","x":400,"y":-8.9},{"a":"MVO","x":450,"y":-9.8},{"a":"MVO","x":500,"y":-10.4},
{"a":"SSA","x":1,"y":-0.5},{"a":"SSA","x":10,"y":-1.5},{"a":"SSA","x":60,"y":-1.6},{"a":"SSA","x":70,"y":-2.6},{"a":"SSA","x":100,"y":-2.8},{"a":"SSA","x":120,"y":-3.2},{"a":"SSA","x":200,"y":-3.5},{"a":"SSA","x":250,"y":-3.7},{"a":"SSA","x":500,"y":-3.8},
{"a":"WOA","x":1,"y":-0.5},{"a":"WOA","x":5,"y":-4},{"a":"WOA","x":10,"y":-4.8},{"a":"WOA","x":50,"y":-5.0},{"a":"WOA","x":500,"y":-5.1},
{"a":"SMA","x":1,"y":-0.5},{"a":"SMA","x":5,"y":-4.5},{"a":"SMA","x":10,"y":-5.5},{"a":"SMA","x":30,"y":-5.6},{"a":"SMA","x":40,"y":-8.8},{"a":"SMA","x":50,"y":-10.4},{"a":"SMA","x":500,"y":-10.4},
{"a":"AO","x":1,"y":-0.5},{"a":"AO","x":10,"y":-2.8},{"a":"AO","x":120,"y":-2.9},{"a":"AO","x":125,"y":-10.4},{"a":"AO","x":500,"y":-10.4},
{"a":"AOA","x":1,"y":-0.5},{"a":"AOA","x":10,"y":-0.6},{"a":"AOA","x":70,"y":-0.7},{"a":"AOA","x":80,"y":-1.8},{"a":"AOA","x":120,"y":-2.0},{"a":"AOA","x":150,"y":-3.0},{"a":"AOA","x":200,"y":-3.5},{"a":"AOA","x":300,"y":-3.6},{"a":"AOA","x":350,"y":-4.0},{"a":"AOA","x":380,"y":-5},{"a":"AOA","x":420,"y":-7},{"a":"AOA","x":450,"y":-8.5},{"a":"AOA","x":480,"y":-9.8},{"a":"AOA","x":500,"y":-10.4},
{"a":"HSMSSA","x":1,"y":-0.5},{"a":"HSMSSA","x":3,"y":-5},{"a":"HSMSSA","x":8,"y":-10.3},{"a":"HSMSSA","x":500,"y":-10.4}
],
"F23":[
{"a":"SCA","x":1,"y":-0.5},{"a":"SCA","x":10,"y":-0.9},{"a":"SCA","x":500,"y":-1.0},
{"a":"MVO","x":1,"y":-0.5},{"a":"MVO","x":15,"y":-2},{"a":"MVO","x":40,"y":-2.5},{"a":"MVO","x":60,"y":-3.8},{"a":"MVO","x":150,"y":-4.5},{"a":"MVO","x":200,"y":-5},{"a":"MVO","x":250,"y":-6.5},{"a":"MVO","x":300,"y":-8},{"a":"MVO","x":350,"y":-9},{"a":"MVO","x":400,"y":-9.3},{"a":"MVO","x":420,"y":-10.2},{"a":"MVO","x":500,"y":-10.5},
{"a":"SSA","x":1,"y":-0.5},{"a":"SSA","x":10,"y":-2.5},{"a":"SSA","x":70,"y":-2.7},{"a":"SSA","x":120,"y":-3},{"a":"SSA","x":150,"y":-5},{"a":"SSA","x":170,"y":-8.3},{"a":"SSA","x":200,"y":-8.8},{"a":"SSA","x":220,"y":-10.4},{"a":"SSA","x":500,"y":-10.5},
{"a":"WOA","x":1,"y":-0.5},{"a":"WOA","x":5,"y":-3},{"a":"WOA","x":15,"y":-4.5},{"a":"WOA","x":40,"y":-5.1},{"a":"WOA","x":270,"y":-10.5},{"a":"WOA","x":500,"y":-10.5},
{"a":"SMA","x":1,"y":-0.5},{"a":"SMA","x":5,"y":-5},{"a":"SMA","x":10,"y":-6.8},{"a":"SMA","x":80,"y":-7},{"a":"SMA","x":100,"y":-8},{"a":"SMA","x":120,"y":-10.1},{"a":"SMA","x":150,"y":-10.5},{"a":"SMA","x":500,"y":-10.5},
{"a":"AO","x":1,"y":-0.5},{"a":"AO","x":8,"y":-2.5},{"a":"AO","x":30,"y":-2.6},{"a":"AO","x":40,"y":-10.5},{"a":"AO","x":500,"y":-10.5},
{"a":"AOA","x":1,"y":-0.5},{"a":"AOA","x":10,"y":-0.8},{"a":"AOA","x":110,"y":-1.8},{"a":"AOA","x":130,"y":-2.5},{"a":"AOA","x":160,"y":-3},{"a":"AOA","x":170,"y":-4.7},{"a":"AOA","x":350,"y":-4.8},{"a":"AOA","x":400,"y":-7},{"a":"AOA","x":450,"y":-9},{"a":"AOA","x":480,"y":-10.3},{"a":"AOA","x":500,"y":-10.5},
{"a":"HSMSSA","x":1,"y":-0.5},{"a":"HSMSSA","x":3,"y":-6},{"a":"HSMSSA","x":8,"y":-10.5},{"a":"HSMSSA","x":500,"y":-10.53}
]
},
"concat":[
{"title":"F5","width":191,"height":150,"data":{"name":"F5"},"mark":{"type":"line","interpolate":"step-after","clip":true,"strokeWidth":1.2},
"encoding":{"x":{"field":"x","type":"quantitative","scale":{"domain":[1,500],"nice":false,"zero":false},"axis":{"title":"Iteration","values":[50,100,150,200,250,300,350,400,450,500]}},
"y":{"field":"y","type":"quantitative","scale":{"type":"log","domain":[0.0025,3.5e8],"nice":false},"axis":{"title":"Best Score","values":[1e8,1e6,1e4,100,1,0.01],"labelExpr":"'10' + replace(replace(replace(replace(replace(replace(replace(replace(replace(replace(replace(toString(round(log(datum.value)/LN10)),'-','⁻'),'0','⁰'),'1','¹'),'2','²'),'3','³'),'4','⁴'),'5','⁵'),'6','⁶'),'7','⁷'),'8','⁸'),'9','⁹')"}},
"color":{"field":"a","type":"nominal","scale":{"domain":["HSMSSA","SMA","SSA","AO","AOA","WOA","SCA","MVO"],"range":["#ff1a1a","#1a1a80","#128a12","#26a69a","#000000","#9e2a80","#ffe100","#7b1414"]},"legend":{"orient":"none","legendX":-1,"legendY":178,"columns":2,"title":null}}}},
{"title":"F6","width":191,"height":150,"data":{"name":"F6"},"mark":{"type":"line","interpolate":"step-after","clip":true,"strokeWidth":1.2},
"encoding":{"x":{"field":"x","type":"quantitative","scale":{"domain":[1,500],"nice":false,"zero":false},"axis":{"title":"Iteration","values":[50,100,150,200,250,300,350,400,450,500]}},
"y":{"field":"y","type":"quantitative","scale":{"type":"log","domain":[6e-7,5.7e4],"nice":false},"axis":{"title":"Best Score","values":[1e4,100,1,0.01,1e-4,1e-6],"labelExpr":"'10' + replace(replace(replace(replace(replace(replace(replace(replace(replace(replace(replace(toString(round(log(datum.value)/LN10)),'-','⁻'),'0','⁰'),'1','¹'),'2','²'),'3','³'),'4','⁴'),'5','⁵'),'6','⁶'),'7','⁷'),'8','⁸'),'9','⁹')"}},
"color":{"field":"a","type":"nominal","scale":{"domain":["HSMSSA","SMA","SSA","AO","AOA","WOA","SCA","MVO"],"range":["#ff1a1a","#1a1a80","#128a12","#26a69a","#000000","#9e2a80","#ffe100","#7b1414"]},"legend":{"orient":"none","legendX":-1,"legendY":178,"columns":2,"title":null}}}},
{"title":"F7","width":191,"height":150,"data":{"name":"F7"},"mark":{"type":"line","interpolate":"step-after","clip":true,"strokeWidth":1.2},
"encoding":{"x":{"field":"x","type":"quantitative","scale":{"domain":[1,500],"nice":false,"zero":false},"axis":{"title":"Iteration","values":[50,100,150,200,250,300,350,400,450,500]}},
"y":{"field":"y","type":"quantitative","scale":{"type":"log","domain":[2e-5,160],"nice":false},"axis":{"title":"Best Score","values":[100,1,0.01,1e-4],"labelExpr":"'10' + replace(replace(replace(replace(replace(replace(replace(replace(replace(replace(replace(toString(round(log(datum.value)/LN10)),'-','⁻'),'0','⁰'),'1','¹'),'2','²'),'3','³'),'4','⁴'),'5','⁵'),'6','⁶'),'7','⁷'),'8','⁸'),'9','⁹')"}},
"color":{"field":"a","type":"nominal","scale":{"domain":["HSMSSA","SMA","SSA","AO","AOA","WOA","SCA","MVO"],"range":["#ff1a1a","#1a1a80","#128a12","#26a69a","#000000","#9e2a80","#ffe100","#7b1414"]},"legend":{"orient":"none","legendX":-1,"legendY":178,"columns":2,"title":null}}}},
{"title":"F8","width":191,"height":150,"data":{"name":"F8"},"mark":{"type":"line","interpolate":"step-after","clip":true,"strokeWidth":1.2},
"encoding":{"x":{"field":"x","type":"quantitative","scale":{"domain":[1,500],"nice":false,"zero":false},"axis":{"title":"Iteration","values":[50,100,150,200,250,300,350,400,450,500]}},
"y":{"field":"y","type":"quantitative","scale":{"domain":[-12570,0],"nice":false,"zero":false},"axis":{"title":"Best Score","values":[0,-2000,-4000,-6000,-8000,-10000,-12000],"labelExpr":"toString(datum.value)"}},
"color":{"field":"a","type":"nominal","scale":{"domain":["HSMSSA","SMA","SSA","AO","AOA","WOA","SCA","MVO"],"range":["#ff1a1a","#1a1a80","#128a12","#26a69a","#000000","#9e2a80","#ffe100","#7b1414"]},"legend":{"orient":"none","legendX":-1,"legendY":178,"columns":2,"title":null}}}},
{"title":"F9","width":191,"height":150,"data":{"name":"F9"},"mark":{"type":"line","interpolate":"step-after","clip":true,"strokeWidth":1.2},
"encoding":{"x":{"field":"x","type":"quantitative","scale":{"domain":[1,500],"nice":false,"zero":false},"axis":{"title":"Iteration","values":[50,100,150,200,250,300,350,400,450,500]}},
"y":{"field":"y","type":"quantitative","scale":{"type":"log","domain":[6e-14,460],"nice":false},"axis":{"title":"Best Score","values":[1,1e-5,1e-10],"labelExpr":"'10' + replace(replace(replace(replace(replace(replace(replace(replace(replace(replace(replace(toString(round(log(datum.value)/LN10)),'-','⁻'),'0','⁰'),'1','¹'),'2','²'),'3','³'),'4','⁴'),'5','⁵'),'6','⁶'),'7','⁷'),'8','⁸'),'9','⁹')"}},
"color":{"field":"a","type":"nominal","scale":{"domain":["HSMSSA","SMA","SSA","AO","AOA","WOA","SCA","MVO"],"range":["#ff1a1a","#1a1a80","#128a12","#26a69a","#000000","#9e2a80","#ffe100","#7b1414"]},"legend":{"orient":"none","legendX":-1,"legendY":178,"columns":2,"title":null}}}},
{"title":"F10","width":191,"height":150,"data":{"name":"F10"},"mark":{"type":"line","interpolate":"step-after","clip":true,"strokeWidth":1.2},
"encoding":{"x":{"field":"x","type":"quantitative","scale":{"domain":[1,500],"nice":false,"zero":false},"axis":{"title":"Iteration","values":[50,100,150,200,250,300,350,400,450,500]}},
"y":{"field":"y","type":"quantitative","scale":{"type":"log","domain":[8.88e-16,21.5],"nice":false},"axis":{"title":"Best Score","values":[1,1e-5,1e-10,1e-15],"labelExpr":"'10' + replace(replace(replace(replace(replace(replace(replace(replace(replace(replace(replace(toString(round(log(datum.value)/LN10)),'-','⁻'),'0','⁰'),'1','¹'),'2','²'),'3','³'),'4','⁴'),'5','⁵'),'6','⁶'),'7','⁷'),'8','⁸'),'9','⁹')"}},
"color":{"field":"a","type":"nominal","scale":{"domain":["HSMSSA","SMA","SSA","AO","AOA","WOA","SCA","MVO"],"range":["#ff1a1a","#1a1a80","#128a12","#26a69a","#000000","#9e2a80","#ffe100","#7b1414"]},"legend":{"orient":"none","legendX":-1,"legendY":178,"columns":2,"title":null}}}},
{"title":"F11","width":191,"height":150,"data":{"name":"F11"},"mark":{"type":"line","interpolate":"step-after","clip":true,"strokeWidth":1.2},
"encoding":{"x":{"field":"x","type":"quantitative","scale":{"domain":[1,500],"nice":false,"zero":false},"axis":{"title":"Iteration","values":[50,100,150,200,250,300,350,400,450,500]}},
"y":{"field":"y","type":"quantitative","scale":{"type":"log","domain":[1.1e-16,900],"nice":false},"axis":{"title":"Best Score","values":[1,1e-5,1e-10,1e-15],"labelExpr":"'10' + replace(replace(replace(replace(replace(replace(replace(replace(replace(replace(replace(toString(round(log(datum.value)/LN10)),'-','⁻'),'0','⁰'),'1','¹'),'2','²'),'3','³'),'4','⁴'),'5','⁵'),'6','⁶'),'7','⁷'),'8','⁸'),'9','⁹')"}},
"color":{"field":"a","type":"nominal","scale":{"domain":["HSMSSA","SMA","SSA","AO","AOA","WOA","SCA","MVO"],"range":["#ff1a1a","#1a1a80","#128a12","#26a69a","#000000","#9e2a80","#ffe100","#7b1414"]},"legend":{"orient":"none","legendX":-1,"legendY":178,"columns":2,"title":null}}}},
{"title":"F12","width":191,"height":150,"data":{"name":"F12"},"mark":{"type":"line","interpolate":"step-after","clip":true,"strokeWidth":1.2},
"encoding":{"x":{"field":"x","type":"quantitative","scale":{"domain":[1,500],"nice":false,"zero":false},"axis":{"title":"Iteration","values":[50,100,150,200,250,300,350,400,450,500]}},
"y":{"field":"y","type":"quantitative","scale":{"type":"log","domain":[7e-6,4.2e8],"nice":false},"axis":{"title":"Best Score","values":[1e5,1,1e-5],"labelExpr":"'10' + replace(replace(replace(replace(replace(replace(replace(replace(replace(replace(replace(toString(round(log(datum.value)/LN10)),'-','⁻'),'0','⁰'),'1','¹'),'2','²'),'3','³'),'4','⁴'),'5','⁵'),'6','⁶'),'7','⁷'),'8','⁸'),'9','⁹')"}},
"color":{"field":"a","type":"nominal","scale":{"domain":["HSMSSA","SMA","SSA","AO","AOA","WOA","SCA","MVO"],"range":["#ff1a1a","#1a1a80","#128a12","#26a69a","#000000","#9e2a80","#ffe100","#7b1414"]},"legend":{"orient":"none","legendX":-1,"legendY":178,"columns":2,"title":null}}}},
{"title":"F13","width":191,"height":150,"data":{"name":"F13"},"mark":{"type":"line","interpolate":"step-after","clip":true,"strokeWidth":1.2},
"encoding":{"x":{"field":"x","type":"quantitative","scale":{"domain":[1,500],"nice":false,"zero":false},"axis":{"title":"Iteration","values":[50,100,150,200,250,300,350,400,450,500]}},
"y":{"field":"y","type":"quantitative","scale":{"type":"log","domain":[3.5e-7,1.2e9],"nice":false},"axis":{"title":"Best Score","values":[1e5,1,1e-5],"labelExpr":"'10' + replace(replace(replace(replace(replace(replace(replace(replace(replace(replace(replace(toString(round(log(datum.value)/LN10)),'-','⁻'),'0','⁰'),'1','¹'),'2','²'),'3','³'),'4','⁴'),'5','⁵'),'6','⁶'),'7','⁷'),'8','⁸'),'9','⁹')"}},
"color":{"field":"a","type":"nominal","scale":{"domain":["HSMSSA","SMA","SSA","AO","AOA","WOA","SCA","MVO"],"range":["#ff1a1a","#1a1a80","#128a12","#26a69a","#000000","#9e2a80","#ffe100","#7b1414"]},"legend":{"orient":"none","legendX":-1,"legendY":178,"columns":2,"title":null}}}},
{"title":"F15","width":191,"height":150,"data":{"name":"F15"},"mark":{"type":"line","interpolate":"step-after","clip":true,"strokeWidth":1.2},
"encoding":{"x":{"field":"x","type":"quantitative","scale":{"domain":[1,500],"nice":false,"zero":false},"axis":{"title":"Iteration","values":[50,100,150,200,250,300,350,400,450,500]}},
"y":{"field":"y","type":"quantitative","scale":{"type":"log","domain":[3.07e-4,1],"nice":false},"axis":{"title":"Best Score","values":[1,0.1,0.01,0.001],"labelExpr":"'10' + replace(replace(replace(replace(replace(replace(replace(replace(replace(replace(replace(toString(round(log(datum.value)/LN10)),'-','⁻'),'0','⁰'),'1','¹'),'2','²'),'3','³'),'4','⁴'),'5','⁵'),'6','⁶'),'7','⁷'),'8','⁸'),'9','⁹')"}},
"color":{"field":"a","type":"nominal","scale":{"domain":["HSMSSA","SMA","SSA","AO","AOA","WOA","SCA","MVO"],"range":["#ff1a1a","#1a1a80","#128a12","#26a69a","#000000","#9e2a80","#ffe100","#7b1414"]},"legend":{"orient":"none","legendX":-1,"legendY":178,"columns":2,"title":null}}}},
{"title":"F19","width":191,"height":150,"data":{"name":"F19"},"mark":{"type":"line","interpolate":"step-after","clip":true,"strokeWidth":1.2},
"encoding":{"x":{"field":"x","type":"quantitative","scale":{"domain":[1,500],"nice":false,"zero":false},"axis":{"title":"Iteration","values":[50,100,150,200,250,300,350,400,450,500]}},
"y":{"field":"y","type":"quantitative","scale":{"domain":[-3.8628,0],"nice":false,"zero":false},"axis":{"title":"Best Score","values":[0,-0.5,-1,-1.5,-2,-2.5,-3,-3.5],"labelExpr":"toString(datum.value)"}},
"color":{"field":"a","type":"nominal","scale":{"domain":["HSMSSA","SMA","SSA","AO","AOA","WOA","SCA","MVO"],"range":["#ff1a1a","#1a1a80","#128a12","#26a69a","#000000","#9e2a80","#ffe100","#7b1414"]},"legend":{"orient":"none","legendX":-1,"legendY":178,"columns":2,"title":null}}}},
{"title":"F20","width":191,"height":150,"data":{"name":"F20"},"mark":{"type":"line","interpolate":"step-after","clip":true,"strokeWidth":1.2},
"encoding":{"x":{"field":"x","type":"quantitative","scale":{"domain":[1,500],"nice":false,"zero":false},"axis":{"title":"Iteration","values":[50,100,150,200,250,300,350,400,450,500]}},
"y":{"field":"y","type":"quantitative","scale":{"domain":[-3.322,0],"nice":false,"zero":false},"axis":{"title":"Best Score","values":[0,-0.5,-1,-1.5,-2,-2.5,-3],"labelExpr":"toString(datum.value)"}},
"color":{"field":"a","type":"nominal","scale":{"domain":["HSMSSA","SMA","SSA","AO","AOA","WOA","SCA","MVO"],"range":["#ff1a1a","#1a1a80","#128a12","#26a69a","#000000","#9e2a80","#ffe100","#7b1414"]},"legend":{"orient":"none","legendX":-1,"legendY":178,"columns":2,"title":null}}}},
{"title":"F21","width":191,"height":150,"data":{"name":"F21"},"mark":{"type":"line","interpolate":"step-after","clip":true,"strokeWidth":1.2},
"encoding":{"x":{"field":"x","type":"quantitative","scale":{"domain":[1,500],"nice":false,"zero":false},"axis":{"title":"Iteration","values":[50,100,150,200,250,300,350,400,450,500]}},
"y":{"field":"y","type":"quantitative","scale":{"domain":[-10.1532,-0.2],"nice":false,"zero":false},"axis":{"title":"Best Score","values":[-1,-2,-3,-4,-5,-6,-7,-8,-9,-10],"labelExpr":"toString(datum.value)"}},
"color":{"field":"a","type":"nominal","scale":{"domain":["HSMSSA","SMA","SSA","AO","AOA","WOA","SCA","MVO"],"range":["#ff1a1a","#1a1a80","#128a12","#26a69a","#000000","#9e2a80","#ffe100","#7b1414"]},"legend":{"orient":"none","legendX":-1,"legendY":178,"columns":2,"title":null}}}},
{"title":"F22","width":191,"height":150,"data":{"name":"F22"},"mark":{"type":"line","interpolate":"step-after","clip":true,"strokeWidth":1.2},
"encoding":{"x":{"field":"x","type":"quantitative","scale":{"domain":[1,500],"nice":false,"zero":false},"axis":{"title":"Iteration","values":[50,100,150,200,250,300,350,400,450,500]}},
"y":{"field":"y","type":"quantitative","scale":{"domain":[-10.4029,-0.2],"nice":false,"zero":false},"axis":{"title":"Best Score","values":[-1,-2,-3,-4,-5,-6,-7,-8,-9,-10],"labelExpr":"toString(datum.value)"}},
"color":{"field":"a","type":"nominal","scale":{"domain":["HSMSSA","SMA","SSA","AO","AOA","WOA","SCA","MVO"],"range":["#ff1a1a","#1a1a80","#128a12","#26a69a","#000000","#9e2a80","#ffe100","#7b1414"]},"legend":{"orient":"none","legendX":-1,"legendY":178,"columns":2,"title":null}}}},
{"title":"F23","width":191,"height":150,"data":{"name":"F23"},"mark":{"type":"line","interpolate":"step-after","clip":true,"strokeWidth":1.2},
"encoding":{"x":{"field":"x","type":"quantitative","scale":{"domain":[1,500],"nice":false,"zero":false},"axis":{"title":"Iteration","values":[50,100,150,200,250,300,350,400,450,500]}},
"y":{"field":"y","type":"quantitative","scale":{"domain":[-10.5364,0],"nice":false,"zero":false},"axis":{"title":"Best Score","values":[0,-1,-2,-3,-4,-5,-6,-7,-8,-9,-10],"labelExpr":"toString(datum.value)"}},
"color":{"field":"a","type":"nominal","scale":{"domain":["HSMSSA","SMA","SSA","AO","AOA","WOA","SCA","MVO"],"range":["#ff1a1a","#1a1a80","#128a12","#26a69a","#000000","#9e2a80","#ffe100","#7b1414"]},"legend":{"orient":"none","legendX":-1,"legendY":178,"columns":2,"title":null}}}}
]
}
